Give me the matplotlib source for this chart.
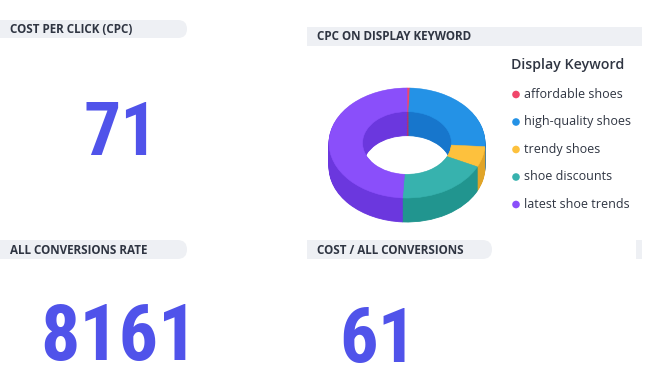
import matplotlib
matplotlib.use("Agg")
import matplotlib.pyplot as plt
from matplotlib import font_manager as fm
from matplotlib.patches import FancyBboxPatch, Rectangle

# ---------------- data ----------------
kpi_titles = ["COST PER CLICK (CPC)", "ALL CONVERSIONS RATE", "COST / ALL CONVERSIONS"]
kpi_values = ["71", "8161", "61"]
donut_title = "CPC ON DISPLAY KEYWORD"
legend_title = "Display Keyword"
keywords = ["affordable shoes", "high-quality shoes", "trendy shoes",
            "shoe discounts", "latest shoe trends"]
cpc_values = [1, 42, 10, 31, 81]

top_colors = ["#f0466a", "#2492e6", "#fdc13d", "#37b2ae", "#8a4ffa"]
side_colors = ["#c93050", "#1776cc", "#e0a428", "#21958f", "#6b37de"]

W, H = 666, 376
names = {f.name for f in fm.fontManager.ttflist}
if "Roboto Condensed" in names:
    num_font = dict(family="Roboto Condensed", fontweight=600)
else:
    num_font = dict(family="DejaVu Sans", stretch="condensed")
ui_font = "Open Sans" if "Open Sans" in names else "DejaVu Sans"

fig = plt.figure(figsize=(W / 100, H / 100), dpi=100)
fig.patch.set_facecolor("white")

# overlay in pixel coordinates
ov = fig.add_axes([0, 0, 1, 1])
ov.set_xlim(0, W)
ov.set_ylim(H, 0)
ov.axis("off")

bar_col = "#eef0f4"
txt_col = "#2f3542"
num_col = "#5053ea"


def header(x0, x1, y0, y1, text, rounded=True):
    h = y1 - y0
    if rounded:
        r = h / 2
        ov.add_patch(Rectangle((x0, y0), (x1 - x0) - r, h, facecolor=bar_col, lw=0))
        ov.add_patch(FancyBboxPatch((x1 - 2 * r, y0), 2 * r, h,
                                    boxstyle=f"round,pad=0,rounding_size={r}",
                                    facecolor=bar_col, lw=0))
    else:
        ov.add_patch(Rectangle((x0, y0), x1 - x0, h, facecolor=bar_col, lw=0))
    if text:
        ov.text(x0 + 10, y0 + h / 2 + 0.5, text, fontsize=8.4, fontweight="bold",
                family=ui_font, color=txt_col, ha="left", va="center")


header(0, 187, 20, 38, kpi_titles[0])
header(307, 642, 27, 46, donut_title, rounded=False)
header(0, 187, 240, 259, kpi_titles[1])
header(307, 492, 240, 259, kpi_titles[2])
header(636, 642, 240, 259, "", rounded=False)

# big KPI numbers
num_pos = [(120.5, 155), (118.5, 360), (377.5, 362)]
num_size = [53, 56, 55]
for (x, y), v, fs in zip(num_pos, kpi_values, num_size):
    ov.text(x, y, v, fontsize=fs, color=num_col, ha="center", va="baseline", **num_font)

# ---------------- 3D donut ----------------
cx, cy, rx, ry, depth = 407, 143, 78, 55, 24
m = 0.1
x0 = cx - rx * (1 + m)
x1 = cx + rx * (1 + m)
ytop = cy - ry * (1 + m)
ybot = cy + ry * (1 + m) + depth
ax = fig.add_axes([x0 / W, 1 - ybot / H, (x1 - x0) / W, (ybot - ytop) / H])
ring = 0.43
d = depth / ry
N = 30


def face_edges(wedges, lw):
    for w in wedges:
        w.set_edgecolor(w.get_facecolor())
        w.set_linewidth(lw)


for k in range(N, 0, -1):
    wd, _ = ax.pie(cpc_values, colors=side_colors, startangle=90, counterclock=False,
                   center=(0, -d * k / N), radius=1, wedgeprops=dict(width=ring))
    face_edges(wd, 0.6)
wd, _ = ax.pie(cpc_values, colors=top_colors, startangle=90, counterclock=False,
               center=(0, 0), radius=1, wedgeprops=dict(width=ring))
face_edges(wd, 0.4)
ax.set_aspect("auto")
ax.set_xlim(-1 - m, 1 + m)
ax.set_ylim(-1 - m - d, 1 + m)
ax.axis("off")

# ---------------- legend ----------------
ov.text(511, 69, legend_title, fontsize=10.2, fontweight="semibold", family=ui_font,
        color=txt_col, ha="left", va="baseline")
row0, pitch = 94.5, 27.5
for i, (lab, col) in enumerate(zip(keywords, top_colors)):
    y = row0 + i * pitch
    ov.scatter([516], [y], s=30, color=col, edgecolor="none")
    ov.text(524, y, lab, fontsize=9, family=ui_font, color=txt_col,
            ha="left", va="center")

fig.savefig("out.png", dpi=100, facecolor="white")
